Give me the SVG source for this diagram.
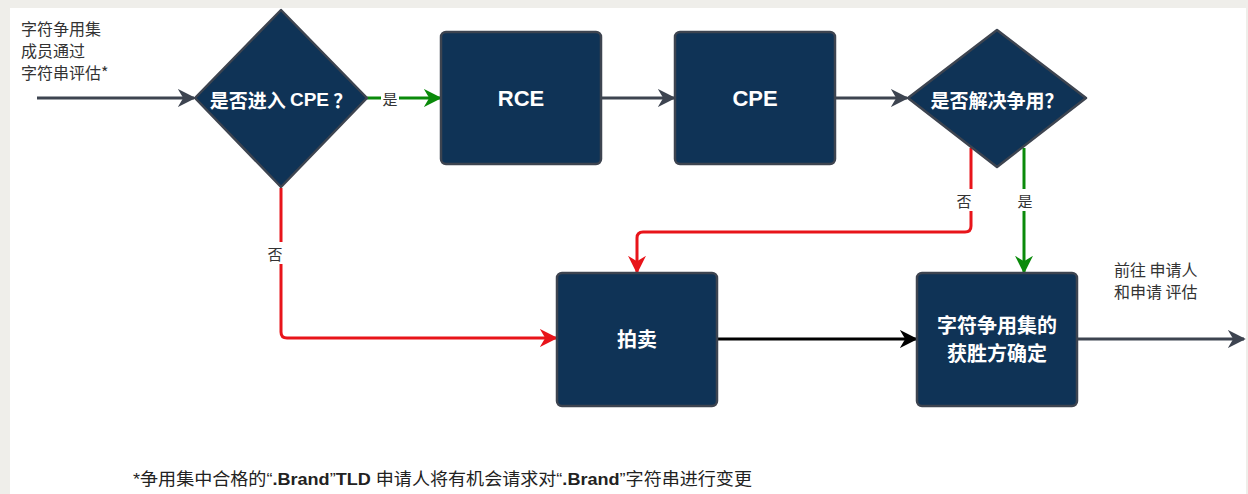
<svg xmlns="http://www.w3.org/2000/svg" width="1248" height="494" viewBox="0 0 1248 494">
<style>
.node{fill:#0f3356;stroke:#3d4450;stroke-width:2.5}
.nt{fill:#fff;font-family:"Noto Sans CJK SC",sans-serif;font-weight:bold;text-anchor:middle;dominant-baseline:central}
.lat{font-family:"Liberation Sans",sans-serif}
.lbl{fill:#333;font-family:"Noto Sans CJK SC",sans-serif;font-size:16px}
.el{fill:#333;font-family:"Noto Sans CJK SC",sans-serif;font-size:15px;text-anchor:middle;dominant-baseline:central}
.c{fill:none;stroke-width:3}
</style>
<defs>
<marker id="agr" viewBox="0 0 10 10" refX="9" refY="5" markerWidth="6" markerHeight="6" orient="auto"><path d="M0,0 L10,5 L0,10 L3,5 Z" fill="#3d4450"/></marker>
<marker id="green" viewBox="0 0 10 10" refX="9" refY="5" markerWidth="6" markerHeight="6" orient="auto"><path d="M0,0 L10,5 L0,10 L3,5 Z" fill="#0a8a0a"/></marker>
<marker id="red" viewBox="0 0 10 10" refX="9" refY="5" markerWidth="6" markerHeight="6" orient="auto"><path d="M0,0 L10,5 L0,10 L3,5 Z" fill="#e8141a"/></marker>
<marker id="blk" viewBox="0 0 10 10" refX="9" refY="5" markerWidth="6" markerHeight="6" orient="auto"><path d="M0,0 L10,5 L0,10 L3,5 Z" fill="#000"/></marker>
</defs>
<rect x="0" y="0" width="1248" height="494" fill="#efeeea"/>
<rect x="10" y="8" width="1236" height="486" fill="#fff"/>

<g id="connectors">
<line class="c" x1="37" y1="98" x2="194" y2="98" stroke="#3d4450" marker-end="url(#agr)"/>
<line class="c" x1="367" y1="98" x2="440" y2="98" stroke="#0a8a0a" marker-end="url(#green)"/>
<rect x="381" y="89" width="18" height="18" fill="#fff"/>
<text class="el" x="390" y="98">是</text>
<line class="c" x1="601" y1="98" x2="674" y2="98" stroke="#3d4450" marker-end="url(#agr)"/>
<line class="c" x1="835" y1="98" x2="907" y2="98" stroke="#3d4450" marker-end="url(#agr)"/>
<path class="c" d="M971,148 V226 Q971,232 965,232 H643 Q637,232 637,238 V272" stroke="#e8141a" marker-end="url(#red)"/>
<rect x="955" y="189" width="18" height="22" fill="#fff"/>
<text class="el" x="964" y="200">否</text>
<line class="c" x1="1024" y1="148" x2="1024" y2="272" stroke="#0a8a0a" marker-end="url(#green)"/>
<rect x="1015" y="189" width="19" height="22" fill="#fff"/>
<text class="el" x="1025" y="200">是</text>
<path class="c" d="M281,188 V332 Q281,338 287,338 H556" stroke="#e8141a" marker-end="url(#red)"/>
<rect x="265" y="242" width="19" height="22" fill="#fff"/>
<text class="el" x="275" y="253">否</text>
<line class="c" x1="717" y1="339" x2="916" y2="339" stroke="#000" marker-end="url(#blk)"/>
<line class="c" x1="1077" y1="339" x2="1244" y2="339" stroke="#3d4450" marker-end="url(#agr)"/>
</g>

<g id="start-label">
<text class="lbl" x="21" y="35">字符争用集</text>
<text class="lbl" x="21" y="57">成员通过</text>
<text class="lbl" x="21" y="79">字符串评估*</text>
</g>

<g id="d1">
<path class="node" stroke-linejoin="round" d="M281,10 L367,98 L281,187 L195,98 Z"/>
<text class="nt" x="281" y="99" font-size="19">是否进入 <tspan class="lat">CPE</tspan> ？</text>
</g>
<g id="rce">
<rect class="node" x="441" y="32" width="160" height="132" rx="5"/>
<text class="nt lat" x="521" y="98" font-size="22">RCE</text>
</g>
<g id="cpe">
<rect class="node" x="675" y="32" width="160" height="132" rx="5"/>
<text class="nt lat" x="755" y="98" font-size="22">CPE</text>
</g>
<g id="d2">
<path class="node" stroke-linejoin="round" d="M997,30 L1086,98 L997,167 L908,98 Z"/>
<text class="nt" x="997" y="99" font-size="19">是否解决争用？</text>
</g>
<g id="auction">
<rect class="node" x="557" y="273" width="160" height="133" rx="5"/>
<text class="nt" x="637" y="338" font-size="20">拍卖</text>
</g>
<g id="winner">
<rect class="node" x="917" y="273" width="160" height="133" rx="5"/>
<text class="nt" x="997" y="324" font-size="20">字符争用集的</text>
<text class="nt" x="997" y="352" font-size="20">获胜方确定</text>
</g>
<g id="out-label">
<text class="lbl" x="1114" y="276">前往 申请人</text>
<text class="lbl" x="1114" y="298">和申请 评估</text>
</g>
<g id="footnote">
<text x="133" y="485" font-family="Liberation Sans,Noto Sans CJK SC,sans-serif" font-size="17" fill="#222" textLength="619" lengthAdjust="spacingAndGlyphs">*争用集中合格的“<tspan font-weight="bold">.Brand</tspan>”<tspan font-weight="bold">TLD</tspan> 申请人将有机会请求对“<tspan font-weight="bold">.Brand</tspan>”字符串进行变更</text>
</g>
</svg>
